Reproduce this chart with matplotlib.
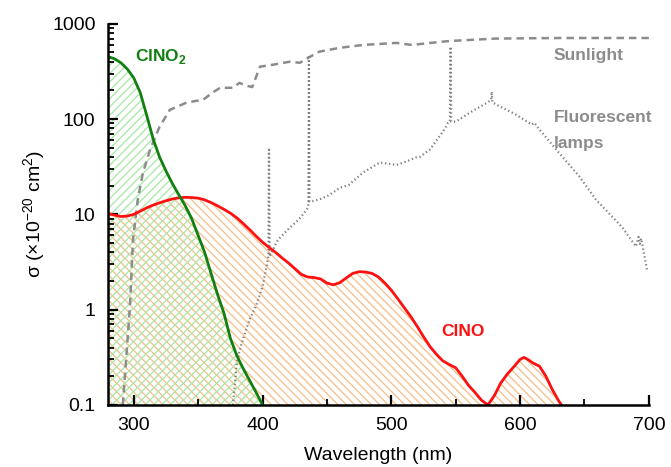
import numpy as np
import matplotlib.pyplot as plt

plt.rcParams['font.family'] = ['Liberation Sans', 'DejaVu Sans']
plt.rcParams['mathtext.fontset'] = 'custom'
plt.rcParams['mathtext.rm'] = 'Liberation Sans'
plt.rcParams['mathtext.bf'] = 'Liberation Sans:bold'
plt.rcParams['hatch.linewidth'] = 0.9

# ClNO2 cross section (1e-20 cm2)
clno2_wl = [280, 285, 290, 295, 300, 305, 310, 315, 320, 325, 330, 335, 340, 345, 350, 355,
            360, 365, 370, 375, 380, 385, 390, 395, 400]
clno2_sigma = [452, 430, 390, 335, 270, 190, 110, 62, 40, 28.5, 21, 16, 12.3, 9.0, 6.0, 4.0,
               2.4, 1.45, 0.92, 0.5, 0.33, 0.24, 0.18, 0.135, 0.1]

# ClNO cross section (1e-20 cm2)
clno_wl = [280, 285, 290, 295, 300, 305, 310, 315, 320, 325, 330, 335, 340, 345, 350, 355,
           360, 365, 370, 375, 380, 385, 390, 395, 400, 405, 410, 415, 420, 425, 430, 435,
           440, 445, 450, 455, 460, 465, 470, 475, 480, 485, 490, 495, 500, 505, 510, 515,
           520, 525, 530, 535, 540, 545, 550, 555, 560, 565, 570, 575, 580, 585, 590, 595,
           600, 603, 606, 610, 615, 620, 625, 630, 633]
clno_sigma = [10.2, 9.8, 9.5, 9.6, 10.0, 10.8, 11.7, 12.5, 13.2, 13.9, 14.5, 14.9, 15.1, 15.0,
              14.8, 14.2, 13.3, 12.3, 11.3, 10.3, 9.2, 8.0, 6.9, 5.9, 5.1, 4.5, 4.0, 3.5,
              3.1, 2.7, 2.35, 2.2, 2.17, 2.1, 1.9, 1.82, 1.92, 2.15, 2.4, 2.5, 2.48, 2.4,
              2.2, 1.9, 1.6, 1.3, 1.05, 0.85, 0.67, 0.52, 0.41, 0.34, 0.29, 0.265, 0.245,
              0.2, 0.16, 0.135, 0.112, 0.1, 0.125, 0.17, 0.21, 0.25, 0.3, 0.315, 0.3, 0.275,
              0.255, 0.2, 0.145, 0.11, 0.096]

# sunlight actinic flux (arbitrary, plotted on same axis)
sun_wl = [291.5, 297, 299.4, 303, 307, 312.6, 320, 328, 341, 354, 361, 367, 377, 382, 387,
          392, 398, 408, 421, 429, 437, 444, 460, 478, 504, 516, 530, 545, 581, 633, 700]
sun_val = [0.1, 1.07, 5.4, 14, 27, 47.5, 83, 125, 149, 160, 189, 213, 213, 240, 225,
           217, 355, 372, 400, 390, 452, 510, 560, 600, 630, 600, 630, 660, 700, 710, 710]

# fluorescent lamp spectrum (arbitrary)
lamp_wl = [377, 380, 383, 386, 390, 395, 400, 403, 404.5, 405, 405.5, 407, 412, 420, 428,
           434, 435.5, 436, 436.5, 438, 445, 452, 460, 467, 478, 491, 504, 512, 519, 522,
           530, 541, 544, 545.5, 546, 546.5, 550, 561, 575, 577.5, 578, 578.5, 581.5, 597,
           609, 611, 613, 628, 646, 659, 679, 690, 692, 693, 694, 698.6]
lamp_val = [0.1, 0.28, 0.41, 0.55, 0.79, 1.1, 1.74, 2.8, 3.6, 50, 3.6, 4.0, 5.4, 7.0, 8.8,
            11, 12, 470, 13.6, 13.6, 14.5, 16, 19, 20.4, 27.4, 35, 33, 36, 39.5, 40,
            48, 77, 91, 94, 575, 94, 94, 117, 150, 160, 194, 150, 142, 111,
            87.6, 91.6, 84, 48, 25, 14.2, 7.4, 4.6, 5.8, 4.9, 5.6, 2.6]

fig = plt.figure(figsize=(6.71, 4.67), dpi=100)
ax = fig.add_axes([0.161, 0.133, 0.806, 0.816])

# hatched areas under the absorption curves
ax.fill_between(clno_wl, clno_sigma, 1e-3, facecolor='none', edgecolor='#f7bd85',
                hatch='\\\\\\\\', linewidth=0)
ax.fill_between(clno2_wl, clno2_sigma, 1e-3, facecolor='none', edgecolor='#a6e8a6',
                hatch='////', linewidth=0)

ax.plot(sun_wl, sun_val, color='#8c8c8c', lw=1.8, linestyle=(0, (3, 2)))
ax.plot(lamp_wl, lamp_val, color='#808080', lw=1.6, linestyle=(0, (0.6, 1.2)))
ax.plot(clno_wl, clno_sigma, color='#ff1010', lw=2)
ax.plot(clno2_wl, clno2_sigma, color='#118011', lw=2)

ax.set_yscale('log')
ax.set_xlim(280, 700)
ax.set_ylim(0.1, 1000)
ax.set_xticks([300, 400, 500, 600, 700])
ax.set_xticks([350, 450, 550, 650], minor=True)
ax.set_yticks([0.1, 1, 10, 100, 1000])
ax.set_yticklabels(['0.1', '1', '10', '100', '1000'])

ax.spines['top'].set_visible(False)
ax.spines['right'].set_visible(False)
for s in ('left', 'bottom'):
    ax.spines[s].set_linewidth(1.8)
ax.tick_params(which='major', direction='in', length=7, width=1.6, labelsize=14, pad=9)
ax.tick_params(which='minor', direction='in', length=4, width=1.3)

ax.set_xlabel('Wavelength (nm)', fontsize=14, labelpad=9)
ax.set_ylabel('σ (×10$^{-20}$ cm$^{2}$)', fontsize=14, labelpad=3)

ax.text(301, 450, r'ClNO$_{\mathbf{2}}$', color='#118011', fontsize=12.5, fontweight='bold',
        va='center')
ax.text(556, 0.59, 'ClNO', color='#ff1010', fontsize=12.5, fontweight='bold', ha='center',
        va='center')
ax.text(626, 470, 'Sunlight', color='#8c8c8c', fontsize=12.5, fontweight='bold', va='center')
ax.text(626, 103, 'Fluorescent', color='#8c8c8c', fontsize=12.5, fontweight='bold',
        va='center')
ax.text(626, 56, 'lamps', color='#8c8c8c', fontsize=12.5, fontweight='bold', va='center')

fig.savefig('out.png', dpi=100)
